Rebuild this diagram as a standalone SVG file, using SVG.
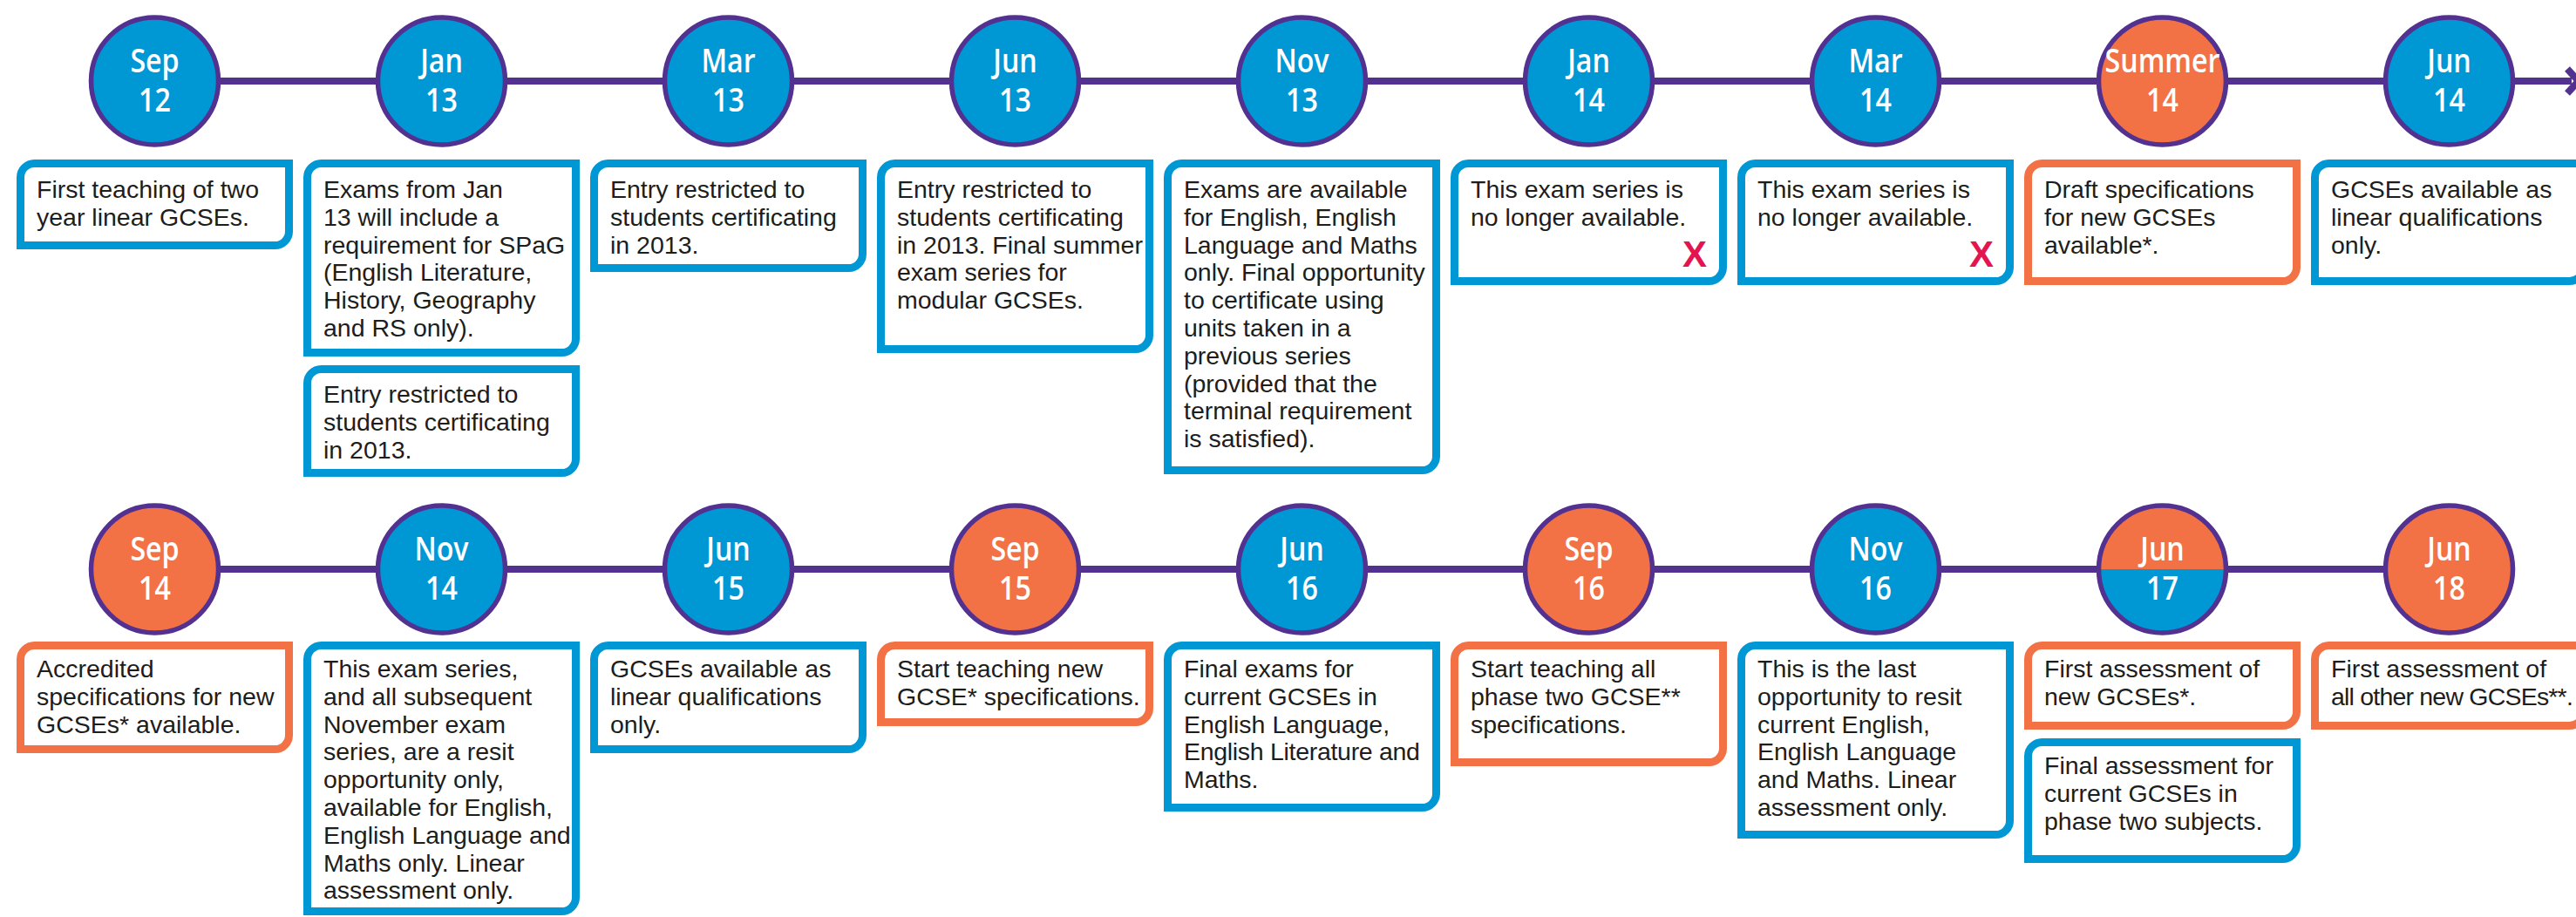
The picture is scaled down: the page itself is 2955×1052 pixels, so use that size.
<svg xmlns="http://www.w3.org/2000/svg" width="2955" height="1052" viewBox="0 0 2955 1052">
<defs>
<style>
.bg{fill:#ffffff}
.ln{stroke:#533191;stroke-width:8;fill:none}
.cir{stroke:#533191;stroke-width:5.5}
.cb{fill:#0097d5}
.co{fill:#f27246}
.ring{fill:none;stroke:#533191;stroke-width:5.5}
.lbl{font-family:"Open Sans","Noto Sans",sans-serif;font-weight:600;font-size:37px;fill:#ffffff;text-anchor:middle}
.box{fill:#ffffff;stroke-width:9}
.bb{stroke:#0097d5}
.bo{stroke:#f27246}
.t{font-family:"Liberation Sans",Arial,sans-serif;font-size:28.5px;fill:#1d1d1b}
.x{font-family:"Liberation Sans",Arial,sans-serif;font-weight:bold;font-size:42px;fill:#e3144f;text-anchor:end}
</style>
</defs>
<rect class="bg" x="0" y="0" width="2955" height="1052"/>
<g id="connectors">
<path class="ln" d="M177.5,93 H2950"/>
<polyline class="ln" points="2945,79 2958,93 2945,107"/>
<path class="ln" d="M177.5,653 H2809.5"/>
</g>

<!-- Row 1 -->
<g id="n-sep12" transform="translate(19,0)">
<circle class="cir cb" cx="158.5" cy="93" r="73"/>
<text class="lbl" transform="translate(158.5,0) scale(0.87,1)"><tspan x="0" y="83">Sep</tspan><tspan x="0" y="128">12</tspan></text>
<path class="box bb" d="M4.5,203.5 A16,16 0 0 1 20.5,187.5 H312.5 V265.5 A16,16 0 0 1 296.5,281.5 H4.5 Z"/>
<text class="t"><tspan x="23" y="227">First teaching of two</tspan><tspan x="23" y="258.8">year linear GCSEs.</tspan></text>
</g>

<g id="n-jan13" transform="translate(348,0)">
<circle class="cir cb" cx="158.5" cy="93" r="73"/>
<text class="lbl" transform="translate(158.5,0) scale(0.87,1)"><tspan x="0" y="83">Jan</tspan><tspan x="0" y="128">13</tspan></text>
<path class="box bb" d="M4.5,203.5 A16,16 0 0 1 20.5,187.5 H312.5 V388.5 A16,16 0 0 1 296.5,404.5 H4.5 Z"/>
<text class="t"><tspan x="23" y="227">Exams from Jan</tspan><tspan x="23" y="258.8">13 will include a</tspan><tspan x="23" y="290.6">requirement for SPaG</tspan><tspan x="23" y="322.4">(English Literature,</tspan><tspan x="23" y="354.2">History, Geography</tspan><tspan x="23" y="386">and RS only).</tspan></text>
<path class="box bb" d="M4.5,439.5 A16,16 0 0 1 20.5,423.5 H312.5 V526.5 A16,16 0 0 1 296.5,542.5 H4.5 Z"/>
<text class="t"><tspan x="23" y="462">Entry restricted to</tspan><tspan x="23" y="493.8">students certificating</tspan><tspan x="23" y="525.6">in 2013.</tspan></text>
</g>

<g id="n-mar13" transform="translate(677,0)">
<circle class="cir cb" cx="158.5" cy="93" r="73"/>
<text class="lbl" transform="translate(158.5,0) scale(0.87,1)"><tspan x="0" y="83">Mar</tspan><tspan x="0" y="128">13</tspan></text>
<path class="box bb" d="M4.5,203.5 A16,16 0 0 1 20.5,187.5 H312.5 V291.5 A16,16 0 0 1 296.5,307.5 H4.5 Z"/>
<text class="t"><tspan x="23" y="227">Entry restricted to</tspan><tspan x="23" y="258.8">students certificating</tspan><tspan x="23" y="290.6">in 2013.</tspan></text>
</g>

<g id="n-jun13" transform="translate(1006,0)">
<circle class="cir cb" cx="158.5" cy="93" r="73"/>
<text class="lbl" transform="translate(158.5,0) scale(0.87,1)"><tspan x="0" y="83">Jun</tspan><tspan x="0" y="128">13</tspan></text>
<path class="box bb" d="M4.5,203.5 A16,16 0 0 1 20.5,187.5 H312.5 V384.5 A16,16 0 0 1 296.5,400.5 H4.5 Z"/>
<text class="t"><tspan x="23" y="227">Entry restricted to</tspan><tspan x="23" y="258.8">students certificating</tspan><tspan x="23" y="290.6">in 2013. Final summer</tspan><tspan x="23" y="322.4">exam series for</tspan><tspan x="23" y="354.2">modular GCSEs.</tspan></text>
</g>

<g id="n-nov13" transform="translate(1335,0)">
<circle class="cir cb" cx="158.5" cy="93" r="73"/>
<text class="lbl" transform="translate(158.5,0) scale(0.87,1)"><tspan x="0" y="83">Nov</tspan><tspan x="0" y="128">13</tspan></text>
<path class="box bb" d="M4.5,203.5 A16,16 0 0 1 20.5,187.5 H312.5 V523.5 A16,16 0 0 1 296.5,539.5 H4.5 Z"/>
<text class="t"><tspan x="23" y="227">Exams are available</tspan><tspan x="23" y="258.8">for English, English</tspan><tspan x="23" y="290.6">Language and Maths</tspan><tspan x="23" y="322.4">only. Final opportunity</tspan><tspan x="23" y="354.2">to certificate using</tspan><tspan x="23" y="386">units taken in a</tspan><tspan x="23" y="417.8">previous series</tspan><tspan x="23" y="449.6">(provided that the</tspan><tspan x="23" y="481.4">terminal requirement</tspan><tspan x="23" y="513.2">is satisfied).</tspan></text>
</g>

<g id="n-jan14" transform="translate(1664,0)">
<circle class="cir cb" cx="158.5" cy="93" r="73"/>
<text class="lbl" transform="translate(158.5,0) scale(0.87,1)"><tspan x="0" y="83">Jan</tspan><tspan x="0" y="128">14</tspan></text>
<path class="box bb" d="M4.5,203.5 A16,16 0 0 1 20.5,187.5 H312.5 V306.5 A16,16 0 0 1 296.5,322.5 H4.5 Z"/>
<text class="t"><tspan x="23" y="227">This exam series is</tspan><tspan x="23" y="258.8">no longer available.</tspan></text>
<text class="x" x="294" y="306">X</text>
</g>

<g id="n-mar14" transform="translate(1993,0)">
<circle class="cir cb" cx="158.5" cy="93" r="73"/>
<text class="lbl" transform="translate(158.5,0) scale(0.87,1)"><tspan x="0" y="83">Mar</tspan><tspan x="0" y="128">14</tspan></text>
<path class="box bb" d="M4.5,203.5 A16,16 0 0 1 20.5,187.5 H312.5 V306.5 A16,16 0 0 1 296.5,322.5 H4.5 Z"/>
<text class="t"><tspan x="23" y="227">This exam series is</tspan><tspan x="23" y="258.8">no longer available.</tspan></text>
<text class="x" x="294" y="306">X</text>
</g>

<g id="n-summer14" transform="translate(2322,0)">
<circle class="cir co" cx="158.5" cy="93" r="73"/>
<text class="lbl" transform="translate(158.5,0) scale(0.87,1)"><tspan x="0" y="83">Summer</tspan><tspan x="0" y="128">14</tspan></text>
<path class="box bo" d="M4.5,203.5 A16,16 0 0 1 20.5,187.5 H312.5 V306.5 A16,16 0 0 1 296.5,322.5 H4.5 Z"/>
<text class="t"><tspan x="23" y="227">Draft specifications</tspan><tspan x="23" y="258.8">for new GCSEs</tspan><tspan x="23" y="290.6">available*.</tspan></text>
</g>

<g id="n-jun14" transform="translate(2651,0)">
<circle class="cir cb" cx="158.5" cy="93" r="73"/>
<text class="lbl" transform="translate(158.5,0) scale(0.87,1)"><tspan x="0" y="83">Jun</tspan><tspan x="0" y="128">14</tspan></text>
<path class="box bb" d="M4.5,203.5 A16,16 0 0 1 20.5,187.5 H312.5 V306.5 A16,16 0 0 1 296.5,322.5 H4.5 Z"/>
<text class="t"><tspan x="23" y="227">GCSEs available as</tspan><tspan x="23" y="258.8">linear qualifications</tspan><tspan x="23" y="290.6">only.</tspan></text>
</g>

<!-- Row 2 -->
<g id="n-sep14" transform="translate(19,560)">
<circle class="cir co" cx="158.5" cy="93" r="73"/>
<text class="lbl" transform="translate(158.5,0) scale(0.87,1)"><tspan x="0" y="83">Sep</tspan><tspan x="0" y="128">14</tspan></text>
<path class="box bo" d="M4.5,196.5 A16,16 0 0 1 20.5,180.5 H312.5 V283.5 A16,16 0 0 1 296.5,299.5 H4.5 Z"/>
<text class="t"><tspan x="23" y="217">Accredited</tspan><tspan x="23" y="248.8">specifications for new</tspan><tspan x="23" y="280.6">GCSEs* available.</tspan></text>
</g>

<g id="n-nov14" transform="translate(348,560)">
<circle class="cir cb" cx="158.5" cy="93" r="73"/>
<text class="lbl" transform="translate(158.5,0) scale(0.87,1)"><tspan x="0" y="83">Nov</tspan><tspan x="0" y="128">14</tspan></text>
<path class="box bb" d="M4.5,196.5 A16,16 0 0 1 20.5,180.5 H312.5 V469.5 A16,16 0 0 1 296.5,485.5 H4.5 Z"/>
<text class="t"><tspan x="23" y="217">This exam series,</tspan><tspan x="23" y="248.8">and all subsequent</tspan><tspan x="23" y="280.6">November exam</tspan><tspan x="23" y="312.4">series, are a resit</tspan><tspan x="23" y="344.2">opportunity only,</tspan><tspan x="23" y="376">available for English,</tspan><tspan x="23" y="407.8">English Language and</tspan><tspan x="23" y="439.6">Maths only. Linear</tspan><tspan x="23" y="471.4">assessment only.</tspan></text>
</g>

<g id="n-jun15" transform="translate(677,560)">
<circle class="cir cb" cx="158.5" cy="93" r="73"/>
<text class="lbl" transform="translate(158.5,0) scale(0.87,1)"><tspan x="0" y="83">Jun</tspan><tspan x="0" y="128">15</tspan></text>
<path class="box bb" d="M4.5,196.5 A16,16 0 0 1 20.5,180.5 H312.5 V283.5 A16,16 0 0 1 296.5,299.5 H4.5 Z"/>
<text class="t"><tspan x="23" y="217">GCSEs available as</tspan><tspan x="23" y="248.8">linear qualifications</tspan><tspan x="23" y="280.6">only.</tspan></text>
</g>

<g id="n-sep15" transform="translate(1006,560)">
<circle class="cir co" cx="158.5" cy="93" r="73"/>
<text class="lbl" transform="translate(158.5,0) scale(0.87,1)"><tspan x="0" y="83">Sep</tspan><tspan x="0" y="128">15</tspan></text>
<path class="box bo" d="M4.5,196.5 A16,16 0 0 1 20.5,180.5 H312.5 V252.5 A16,16 0 0 1 296.5,268.5 H4.5 Z"/>
<text class="t"><tspan x="23" y="217">Start teaching new</tspan><tspan x="23" y="248.8">GCSE* specifications.</tspan></text>
</g>

<g id="n-jun16" transform="translate(1335,560)">
<circle class="cir cb" cx="158.5" cy="93" r="73"/>
<text class="lbl" transform="translate(158.5,0) scale(0.87,1)"><tspan x="0" y="83">Jun</tspan><tspan x="0" y="128">16</tspan></text>
<path class="box bb" d="M4.5,196.5 A16,16 0 0 1 20.5,180.5 H312.5 V350.5 A16,16 0 0 1 296.5,366.5 H4.5 Z"/>
<text class="t"><tspan x="23" y="217">Final exams for</tspan><tspan x="23" y="248.8">current GCSEs in</tspan><tspan x="23" y="280.6">English Language,</tspan><tspan x="23" y="312.4" letter-spacing="-0.3">English Literature and</tspan><tspan x="23" y="344.2">Maths.</tspan></text>
</g>

<g id="n-sep16" transform="translate(1664,560)">
<circle class="cir co" cx="158.5" cy="93" r="73"/>
<text class="lbl" transform="translate(158.5,0) scale(0.87,1)"><tspan x="0" y="83">Sep</tspan><tspan x="0" y="128">16</tspan></text>
<path class="box bo" d="M4.5,196.5 A16,16 0 0 1 20.5,180.5 H312.5 V298.5 A16,16 0 0 1 296.5,314.5 H4.5 Z"/>
<text class="t"><tspan x="23" y="217">Start teaching all</tspan><tspan x="23" y="248.8">phase two GCSE**</tspan><tspan x="23" y="280.6">specifications.</tspan></text>
</g>

<g id="n-nov16" transform="translate(1993,560)">
<circle class="cir cb" cx="158.5" cy="93" r="73"/>
<text class="lbl" transform="translate(158.5,0) scale(0.87,1)"><tspan x="0" y="83">Nov</tspan><tspan x="0" y="128">16</tspan></text>
<path class="box bb" d="M4.5,196.5 A16,16 0 0 1 20.5,180.5 H312.5 V381.5 A16,16 0 0 1 296.5,397.5 H4.5 Z"/>
<text class="t"><tspan x="23" y="217">This is the last</tspan><tspan x="23" y="248.8">opportunity to resit</tspan><tspan x="23" y="280.6">current English,</tspan><tspan x="23" y="312.4">English Language</tspan><tspan x="23" y="344.2">and Maths. Linear</tspan><tspan x="23" y="376">assessment only.</tspan></text>
</g>

<g id="n-jun17" transform="translate(2322,560)">
<circle class="cb" cx="158.5" cy="93" r="73"/>
<path class="co" d="M85.5,93 A73,73 0 0 1 231.5,93 Z"/>
<circle class="ring" cx="158.5" cy="93" r="73"/>
<text class="lbl" transform="translate(158.5,0) scale(0.87,1)"><tspan x="0" y="83">Jun</tspan><tspan x="0" y="128">17</tspan></text>
<path class="box bo" d="M4.5,196.5 A16,16 0 0 1 20.5,180.5 H312.5 V256.5 A16,16 0 0 1 296.5,272.5 H4.5 Z"/>
<text class="t"><tspan x="23" y="217">First assessment of</tspan><tspan x="23" y="248.8">new GCSEs*.</tspan></text>
<path class="box bb" d="M4.5,307.5 A16,16 0 0 1 20.5,291.5 H312.5 V409.5 A16,16 0 0 1 296.5,425.5 H4.5 Z"/>
<text class="t"><tspan x="23" y="328">Final assessment for</tspan><tspan x="23" y="359.8">current GCSEs in</tspan><tspan x="23" y="391.6">phase two subjects.</tspan></text>
</g>

<g id="n-jun18" transform="translate(2651,560)">
<circle class="cir co" cx="158.5" cy="93" r="73"/>
<text class="lbl" transform="translate(158.5,0) scale(0.87,1)"><tspan x="0" y="83">Jun</tspan><tspan x="0" y="128">18</tspan></text>
<path class="box bo" d="M4.5,196.5 A16,16 0 0 1 20.5,180.5 H312.5 V256.5 A16,16 0 0 1 296.5,272.5 H4.5 Z"/>
<text class="t"><tspan x="23" y="217">First assessment of</tspan><tspan x="23" y="248.8" letter-spacing="-0.8">all other new GCSEs**.</tspan></text>
</g>
</svg>
